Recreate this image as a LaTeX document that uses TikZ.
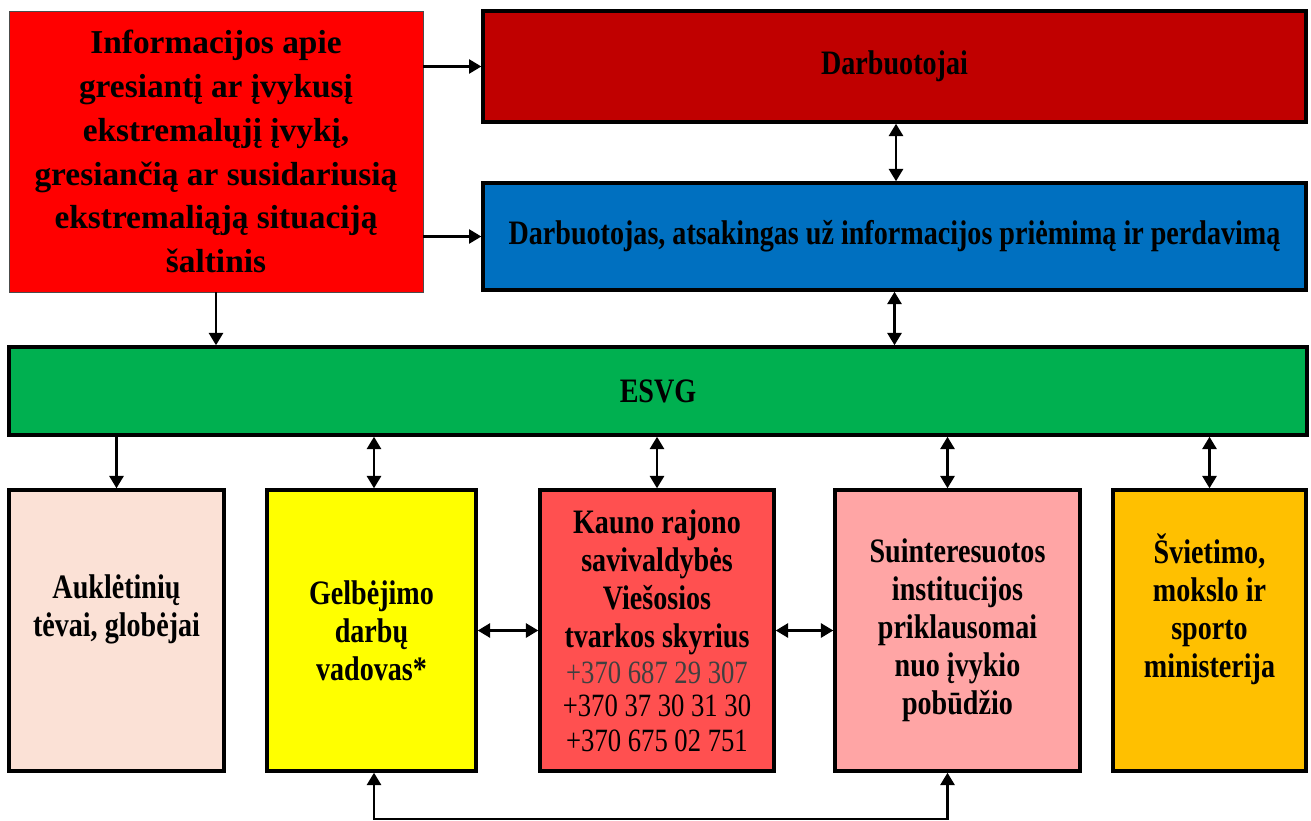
\documentclass[tikz,border=0pt]{standalone}
\usepackage{fontspec}
\setmainfont{Liberation Serif}
\newfontfamily\condfont[FakeStretch=0.82]{Liberation Serif}
\usetikzlibrary{arrows.meta}
\definecolor{srcred}{HTML}{FF0000}
\definecolor{darkred}{HTML}{C00000}
\definecolor{blueb}{HTML}{0070C0}
\definecolor{greenb}{HTML}{00B050}
\definecolor{peach}{HTML}{FBE1D6}
\definecolor{yellowb}{HTML}{FFFF00}
\definecolor{kaunored}{HTML}{FF5050}
\definecolor{pinkb}{HTML}{FFA5A5}
\definecolor{orangeb}{HTML}{FFC000}
\definecolor{phonegray}{HTML}{404040}
\newcommand{\phonefont}{\mdseries\fontsize{18.5}{20.5}\selectfont}
\tikzset{
  box/.style={draw=black, line width=2pt, align=center, inner sep=2pt, font=\condfont\bfseries\fontsize{19.5}{21.6}\selectfont},
  srcbox/.style={draw=black!70, line width=0.5pt, align=center, inner sep=2pt, font=\bfseries\fontsize{19}{25}\selectfont},
  arr/.style={line width=1.4pt, -{Triangle[length=7pt,width=8pt]}},
  darr/.style={line width=1.4pt, {Triangle[length=7pt,width=8pt]}-{Triangle[length=7pt,width=8pt]}},
}
\begin{document}
\begin{tikzpicture}[x=0.02cm,y=-0.02cm]
\useasboundingbox (0,0) rectangle (1311,821);
\node[srcbox, fill=srcred, minimum width=8.28cm, minimum height=5.62cm] (src) at (216,151.5)
  {Informacijos apie\\gresiantį ar įvykusį\\ekstremalųjį įvykį,\\gresiančią ar susidariusią\\ekstremaliąją situaciją\\šaltinis};
\node[box, fill=darkred, minimum width=16.46cm, minimum height=2.22cm] (darb) at (894.5,66.5) {Darbuotojai};
\node[box, fill=blueb, minimum width=16.46cm, minimum height=2.14cm] (blue) at (894.5,236.5)
  {Darbuotojas, atsakingas už informacijos priėmimą ir perdavimą};
\node[box, fill=greenb, minimum width=25.96cm, minimum height=1.76cm] (esvg) at (658,391) {ESVG};
\node[box, fill=peach, minimum width=4.3cm, minimum height=5.62cm] (auk) at (116.5,630.5)
  {Auklėtinių\\tėvai, globėjai\\\strut};
\node[box, fill=yellowb, minimum width=4.18cm, minimum height=5.62cm] (gel) at (371.5,630.5)
  {Gelbėjimo\\darbų\\vadovas*};
\node[box, fill=kaunored, minimum width=4.68cm, minimum height=5.62cm] (kau) at (657,630.5)
  {Kauno rajono\\savivaldybės\\Viešosios\\tvarkos skyrius\\[-1pt]{\phonefont\color{phonegray}+370 687 29 307}\\[-2.5pt]{\phonefont +370 37 30 31 30}\\[-2pt]{\phonefont +370 675 02 751}};
\node[box, fill=pinkb, minimum width=4.9cm, minimum height=5.62cm] (sui) at (957.5,630.5)
  {Suinteresuotos\\institucijos\\priklausomai\\nuo įvykio\\pobūdžio};
\node[box, fill=orangeb, minimum width=3.86cm, minimum height=5.62cm] (svi) at (1209.5,630.5)
  {Švietimo,\\mokslo ir\\sporto\\ministerija\\\strut};
\coordinate (bot) at (374,819);
% connectors
\draw[arr] (src.east |- darb.west) -- (darb.west);
\draw[arr] (src.east |- blue.west) -- (blue.west);
\draw[arr] (src.south) -- (src.south |- esvg.north);
\draw[darr] ([xshift=0.03cm]darb.south) -- ([xshift=0.03cm]blue.north);
\draw[darr] (blue.south) -- (blue.south |- esvg.north);
\draw[arr] (auk.north |- esvg.south) -- (auk.north);
\draw[darr] ([xshift=0.05cm]gel.north |- esvg.south) -- ([xshift=0.05cm]gel.north);
\draw[darr] (kau.north |- esvg.south) -- (kau.north);
\draw[darr] ([xshift=-0.2cm]sui.north |- esvg.south) -- ([xshift=-0.2cm]sui.north);
\draw[darr] (svi.north |- esvg.south) -- (svi.north);
\draw[darr] (gel.east) -- (kau.west);
\draw[darr] (kau.east) -- (sui.west);
\draw[darr] ([xshift=0.05cm]gel.south) -- ([xshift=0.05cm]gel.south |- bot) -| ([xshift=-0.2cm]sui.south);
\end{tikzpicture}
\end{document}
